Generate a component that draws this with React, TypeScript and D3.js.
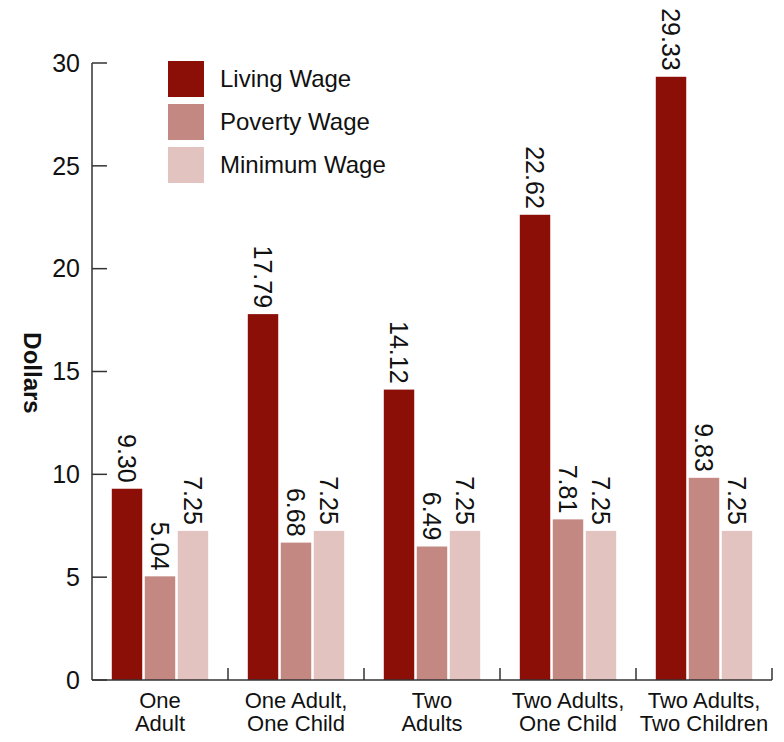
import React from "react";
import * as d3 from "d3";

const categories = [
  ["One", "Adult"],
  ["One Adult,", "One Child"],
  ["Two", "Adults"],
  ["Two Adults,", "One Child"],
  ["Two Adults,", "Two Children"],
];
const seriesNames = ["Living Wage", "Poverty Wage", "Minimum Wage"];
const livingWage = [9.3, 17.79, 14.12, 22.62, 29.33];
const povertyWage = [5.04, 6.68, 6.49, 7.81, 9.83];
const minimumWage = [7.25, 7.25, 7.25, 7.25, 7.25];
const colors = ["#8B0F07", "#C48882", "#E2C3C0"];
const yTicks = [0, 5, 10, 15, 20, 25, 30];

const FONT = "'Liberation Sans', Arial, sans-serif";

export default function App() {
  const W = 784, H = 742;
  const left = 92, right = 772, bottom = 680, top = 63;
  const series = [livingWage, povertyWage, minimumWage];
  const catKeys = categories.map((c) => c.join(" "));
  const x = d3.scaleBand<string>().domain(catKeys).range([left, right]).padding(0);
  const xs = d3.scaleBand<number>().domain([0, 1, 2]).range([0, x.bandwidth()]).paddingInner(0.077).paddingOuter(0.6);
  const y = d3.scaleLinear().domain([0, 30]).range([bottom, top]);
  const axisColor = "#333";

  return (
    <svg width={W} height={H} style={{ position: "absolute", left: 0, top: 0, background: "#fff" }} fontFamily={FONT}>
      {catKeys.map((k, ci) => (
        <g key={k} transform={`translate(${x(k)},0)`}>
          {series.map((s, si) => {
            const bx = xs(si)!;
            const bw = xs.bandwidth();
            const v = s[ci];
            return (
              <g key={si}>
                <rect x={bx} y={y(v)} width={bw} height={bottom - y(v)} fill={colors[si]} />
                <text
                  transform={`translate(${bx + bw / 2},${y(v) - 6}) rotate(90)`}
                  textAnchor="end"
                  dy="0.35em"
                  fontSize={25}
                  fill="#111"
                >
                  {v.toFixed(2)}
                </text>
              </g>
            );
          })}
        </g>
      ))}
      <line x1={left} x2={left} y1={y(30)} y2={bottom} stroke={axisColor} strokeWidth={1.5} />
      {yTicks.map((t) => (
        <g key={t}>
          <line x1={left} x2={left + 15} y1={y(t)} y2={y(t)} stroke={axisColor} strokeWidth={1.5} />
          <text x={80} y={y(t)} dy="0.35em" textAnchor="end" fontSize={25} fill="#111">
            {t}
          </text>
        </g>
      ))}
      <line x1={left} x2={right} y1={bottom} y2={bottom} stroke={axisColor} strokeWidth={1.5} />
      {catKeys.map((k) => (
        <line key={k} x1={x(k)! + x.bandwidth()} x2={x(k)! + x.bandwidth()} y1={bottom} y2={bottom - 12} stroke={axisColor} strokeWidth={1.5} />
      ))}
      {categories.map((c, ci) =>
        c.map((line, li) => (
          <text
            key={`${ci}-${li}`}
            x={x(catKeys[ci])! + x.bandwidth() / 2}
            y={708 + li * 23}
            textAnchor="middle"
            fontSize={22}
            fill="#111"
          >
            {line}
          </text>
        ))
      )}
      <text transform="translate(32,373) rotate(90)" textAnchor="middle" dy="0.35em" fontSize={24} fontWeight="bold" fill="#111">
        Dollars
      </text>
      {seriesNames.map((n, i) => (
        <g key={n} transform={`translate(168,${61 + i * 43})`}>
          <rect width={36} height={36} fill={colors[i]} />
          <text x={52} y={18} dy="0.35em" fontSize={24} fill="#111">
            {n}
          </text>
        </g>
      ))}
    </svg>
  );
}
